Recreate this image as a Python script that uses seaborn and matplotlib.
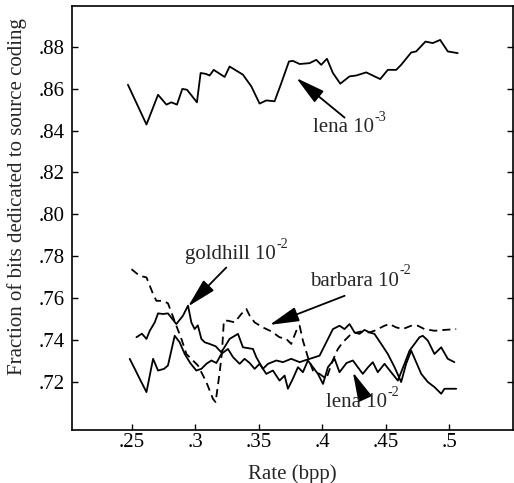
import numpy as np
import pandas as pd
import matplotlib
matplotlib.use('Agg')
import matplotlib.pyplot as plt
import seaborn as sns

# ─── Data ─────────────────────────────────────────────────────────────────────
lena3_x = [0.2470, 0.2616, 0.2707, 0.2773, 0.2812, 0.2856, 0.2898, 0.2935, 0.3013,
           0.3042, 0.3082, 0.3113, 0.3145, 0.3231, 0.3270, 0.3375, 0.3441, 0.3506,
           0.3559, 0.3624, 0.3677, 0.3737, 0.3768, 0.3821, 0.3899, 0.3952, 0.3991,
           0.4036, 0.4083, 0.4141, 0.4214, 0.4266, 0.4345, 0.4455, 0.4515, 0.4581,
           0.4620, 0.4699, 0.4738, 0.4811, 0.4869, 0.4927, 0.4987, 0.5065]
lena3_y = [0.8619, 0.8429, 0.8571, 0.8524, 0.8535, 0.8524, 0.8599, 0.8595, 0.8535,
           0.8675, 0.8671, 0.8663, 0.8690, 0.8656, 0.8706, 0.8667, 0.8611, 0.8529,
           0.8544, 0.8540, 0.8627, 0.8730, 0.8733, 0.8718, 0.8722, 0.8738, 0.8714,
           0.8743, 0.8675, 0.8624, 0.8659, 0.8663, 0.8678, 0.8646, 0.8690, 0.8690,
           0.8714, 0.8773, 0.8778, 0.8825, 0.8818, 0.8833, 0.8778, 0.8770]

barbara_x = [0.2498, 0.2563, 0.2616, 0.2642, 0.2668, 0.2694, 0.2746, 0.2785, 0.2812,
             0.2851, 0.2891, 0.2930, 0.3021, 0.3087, 0.3139, 0.3160, 0.3192, 0.3210,
             0.3225, 0.3257, 0.3310, 0.3362, 0.3402, 0.3428, 0.3467, 0.3532, 0.3598,
             0.3663, 0.3716, 0.3755, 0.3795, 0.3821, 0.3847, 0.3886, 0.3926, 0.3978,
             0.4031, 0.4080, 0.4122, 0.4161, 0.4227, 0.4300, 0.4370, 0.4410, 0.4489,
             0.4528, 0.4581, 0.4633, 0.4699, 0.4751, 0.4803, 0.4882, 0.4961, 0.5053]
barbara_y = [0.7738, 0.7706, 0.7699, 0.7659, 0.7619, 0.7587, 0.7587, 0.7575, 0.7532,
             0.7468, 0.7405, 0.7333, 0.7278, 0.7199, 0.7119, 0.7103, 0.7246, 0.7341,
             0.7492, 0.7492, 0.7484, 0.7524, 0.7548, 0.7516, 0.7484, 0.7460, 0.7441,
             0.7413, 0.7405, 0.7381, 0.7444, 0.7468, 0.7397, 0.7318, 0.7254, 0.7238,
             0.7214, 0.7300, 0.7357, 0.7389, 0.7429, 0.7440, 0.7436, 0.7444, 0.7468,
             0.7476, 0.7460, 0.7452, 0.7468, 0.7468, 0.7452, 0.7444, 0.7448, 0.7452]

goldhill_x = [0.2537, 0.2580, 0.2616, 0.2642, 0.2681, 0.2707, 0.2746, 0.2785, 0.2851,
              0.2903, 0.2943, 0.2969, 0.2995, 0.3020, 0.3048, 0.3074, 0.3113, 0.3160,
              0.3205, 0.3270, 0.3336, 0.3375, 0.3454, 0.3480, 0.3532, 0.3572, 0.3638,
              0.3690, 0.3755, 0.3821, 0.3860, 0.3978, 0.4083, 0.4135, 0.4174, 0.4214,
              0.4253, 0.4292, 0.4332, 0.4371, 0.4410, 0.4463, 0.4515, 0.4568, 0.4620,
              0.4659, 0.4699, 0.4778, 0.4830, 0.4882, 0.4935, 0.4961, 0.5053]
goldhill_y = [0.7413, 0.7430, 0.7405, 0.7444, 0.7484, 0.7527, 0.7524, 0.7527, 0.7476,
              0.7516, 0.7564, 0.7484, 0.7452, 0.7470, 0.7405, 0.7389, 0.7381, 0.7370,
              0.7341, 0.7405, 0.7429, 0.7365, 0.7357, 0.7318, 0.7262, 0.7286, 0.7302,
              0.7294, 0.7310, 0.7294, 0.7302, 0.7325, 0.7452, 0.7468, 0.7452, 0.7476,
              0.7436, 0.7429, 0.7448, 0.7436, 0.7429, 0.7381, 0.7333, 0.7270, 0.7199,
              0.7286, 0.7349, 0.7238, 0.7199, 0.7175, 0.7143, 0.7167, 0.7167]

lena2_x = [0.2484, 0.2524, 0.2563, 0.2616, 0.2668, 0.2707, 0.2754, 0.2785, 0.2838,
           0.2877, 0.2917, 0.2960, 0.3008, 0.3048, 0.3087, 0.3127, 0.3166, 0.3205,
           0.3257, 0.3297, 0.3349, 0.3388, 0.3428, 0.3467, 0.3506, 0.3559, 0.3611,
           0.3663, 0.3703, 0.3729, 0.3768, 0.3808, 0.3847, 0.3886, 0.3926, 0.3965,
           0.4005, 0.4044, 0.4096, 0.4135, 0.4190, 0.4240, 0.4279, 0.4318, 0.4360,
           0.4397, 0.4436, 0.4489, 0.4541, 0.4594, 0.4646, 0.4686, 0.4725, 0.4764,
           0.4790, 0.4830, 0.4882, 0.4935, 0.4987, 0.5039]
lena2_y = [0.7310, 0.7262, 0.7214, 0.7151, 0.7310, 0.7254, 0.7262, 0.7278, 0.7420,
           0.7389, 0.7333, 0.7290, 0.7254, 0.7262, 0.7286, 0.7302, 0.7290, 0.7333,
           0.7357, 0.7318, 0.7286, 0.7310, 0.7290, 0.7262, 0.7286, 0.7238, 0.7254,
           0.7206, 0.7230, 0.7167, 0.7215, 0.7270, 0.7246, 0.7302, 0.7270, 0.7238,
           0.7190, 0.7270, 0.7310, 0.7246, 0.7290, 0.7302, 0.7270, 0.7238, 0.7270,
           0.7294, 0.7246, 0.7286, 0.7246, 0.7206, 0.7286, 0.7349, 0.7381, 0.7413,
           0.7420, 0.7397, 0.7333, 0.7365, 0.7310, 0.7294]

x_ticks = [0.25, 0.30, 0.35, 0.40, 0.45, 0.50]
x_ticklabels = ['.25', '.3', '.35', '.4', '.45', '.5']
y_ticks = [0.72, 0.74, 0.76, 0.78, 0.80, 0.82, 0.84, 0.86, 0.88]
y_ticklabels = ['.72', '.74', '.76', '.78', '.80', '.82', '.84', '.86', '.88']

# label name, exponent, text anchor (x, y), arrow tail, arrow tip
annotations = [
    ('lena 10',     '-3', (0.3923, 0.8414), (0.4175, 0.8462), (0.3795, 0.8651)),
    ('goldhill 10', '-2', (0.2917, 0.7807), (0.3244, 0.7746), (0.2943, 0.7560)),
    ('barbara 10',  '-2', (0.3899, 0.7681), (0.4175, 0.7611), (0.3585, 0.7472)),
    ('lena 10',     '-2', (0.4030, 0.7100), (0.4318, 0.7143), (0.4240, 0.7246)),
]

# ─── Style ────────────────────────────────────────────────────────────────────
sns.set_style('ticks')
plt.rcParams['font.family'] = ['Liberation Serif', 'DejaVu Serif']
FS = 15

fig = plt.figure(figsize=(5.14, 4.83), dpi=100)
ax = fig.add_axes([72 / 514, 1 - 430 / 483, 441 / 514, 424 / 483])

LW = 1.3
series = [(lena3_x, lena3_y, '-'), (goldhill_x, goldhill_y, '-'),
          (lena2_x, lena2_y, '-'), (barbara_x, barbara_y, (0, (4.5, 2.8)))]
for xs, ys, ls in series:
    sns.lineplot(x=xs, y=ys, ax=ax, color='black', linewidth=LW,
                 linestyle=ls, estimator=None, sort=False)

ax.set_xlim(0.203, 0.550)
ax.set_ylim(0.697, 0.8995)
ax.set_xticks(x_ticks)
ax.set_xticklabels(x_ticklabels)
ax.set_yticks(y_ticks)
ax.set_yticklabels(y_ticklabels)
ax.tick_params(axis='both', direction='in', length=4, width=1, labelsize=FS, colors='black')
ax.tick_params(axis='x', pad=2)
ax.tick_params(axis='y', pad=5, right=True)
for sp in ax.spines.values():
    sp.set_visible(True)
    sp.set_color('black')
    sp.set_linewidth(1.2)

ax.set_xlabel('Rate (bpp)', fontsize=FS, labelpad=9)
ax.set_ylabel('Fraction of bits dedicated to source coding', fontsize=FS)
ax.yaxis.set_label_coords(-0.102, 0.551)

# ─── Annotations (arrow + label with a superscript exponent) ──────────────────
fig.canvas.draw()
renderer = fig.canvas.get_renderer()
for name, expo, txt_xy, tail, tip in annotations:
    ax.annotate('', xy=tip, xytext=tail,
                arrowprops=dict(arrowstyle='-|>,head_length=1.8,head_width=0.45',
                                mutation_scale=10, color='black', lw=1.3,
                                shrinkA=0, shrinkB=0))
    t = ax.text(txt_xy[0], txt_xy[1], name, fontsize=FS, ha='left', va='center')
    bb = t.get_window_extent(renderer)
    ax.annotate(expo, xy=(bb.x1, bb.y1), xycoords='figure pixels',
                xytext=(0.5, -4), textcoords='offset points',
                fontsize=FS * 0.68, ha='left', va='bottom')

fig.savefig('out.png', dpi=100, facecolor='white')
